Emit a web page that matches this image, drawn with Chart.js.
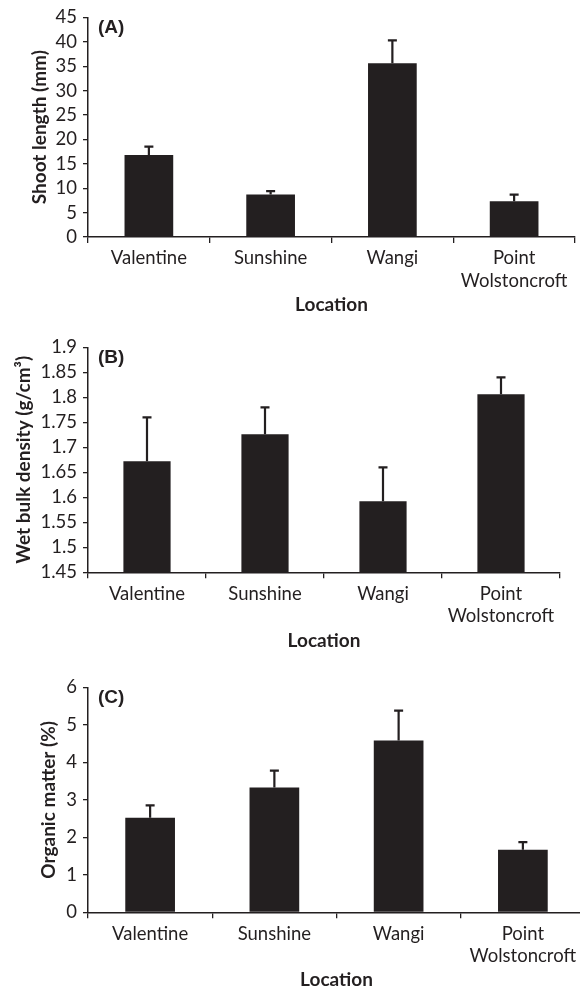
<!DOCTYPE html>
<html>
<head>
<meta charset="utf-8">
<script src="https://cdn.jsdelivr.net/npm/chart.js@4/dist/chart.umd.min.js"></script>
<style>
  html, body { margin: 0; padding: 0; background: #fff; overflow: hidden; }
  body { width: 580px; height: 991px; position: relative; }
  canvas { position: absolute; left: 0; }
</style>
</head>
<body>
<canvas id="chartA" width="580" height="320" style="top:0px"></canvas>
<canvas id="chartB" width="580" height="330" style="top:330px"></canvas>
<canvas id="chartC" width="600" height="321" style="top:670px"></canvas>
<script>
const locations = ['Valentine', 'Sunshine', 'Wangi', ['Point', 'Wolstoncroft']];

// (A) shoot length, mm
const shootLength = [16.8, 8.7, 35.6, 7.3];
const shootLengthErr = [1.7, 0.7, 4.7, 1.4];
const shootAxis = [0, 45, 5];

// (B) wet bulk density, g/cm3
const bulkDensity = [1.672, 1.726, 1.592, 1.806];
const bulkDensityErr = [0.088, 0.054, 0.068, 0.034];
const densityAxis = [1.45, 1.9, 0.05];

// (C) organic matter, %
const organicMatter = [2.52, 3.33, 4.58, 1.67];
const organicMatterErr = [0.33, 0.45, 0.80, 0.20];
const organicAxis = [0, 6, 1];

const ink = '#231f20';
const tickFont = { family: 'Lato', size: 18.5, lineHeight: 1.23 };
const titleFont = { family: 'Lato', size: 19, weight: 'bold', lineHeight: 1.2 };

const errorBars = {
    id: 'errorBars',
    afterDatasetsDraw(chart, args, opts) {
        const ctx = chart.ctx;
        const y = chart.scales.y;
        const vals = chart.data.datasets[0].data;
        ctx.save();
        ctx.strokeStyle = ink;
        ctx.lineWidth = 2.2;
        chart.getDatasetMeta(0).data.forEach((bar, i) => {
            const top = y.getPixelForValue(vals[i] + opts.errors[i]);
            ctx.beginPath();
            ctx.moveTo(bar.x, bar.y);
            ctx.lineTo(bar.x, top);
            ctx.moveTo(bar.x - 4.5, top);
            ctx.lineTo(bar.x + 4.5, top);
            ctx.stroke();
        });
        // panel letter
        ctx.font = 'bold 19px "Liberation Sans"';
        ctx.fillStyle = ink;
        ctx.textBaseline = 'middle';
        ctx.fillText(opts.letter, chart.chartArea.left + 10, chart.chartArea.top + 10);
        ctx.restore();
    }
};

function makePanel(id, p) {
    new Chart(document.getElementById(id), {
        type: 'bar',
        data: {
            labels: locations,
            datasets: [{
                data: p.values,
                backgroundColor: ink,
                barPercentage: 0.4,
                categoryPercentage: 1
            }]
        },
        options: {
            responsive: false,
            animation: false,
            layout: { padding: { top: p.padTop, right: p.padRight, bottom: 0, left: 0 } },
            plugins: {
                legend: { display: false },
                tooltip: { enabled: false },
                errorBars: { errors: p.errors, letter: p.letter }
            },
            scales: {
                x: {
                    grid: { offset: true, drawOnChartArea: false, tickLength: 6, color: ink, lineWidth: 1.3 },
                    border: { color: ink, width: 1.5 },
                    ticks: { color: ink, font: tickFont, padding: 4, maxRotation: 0, autoSkip: false },
                    title: { display: true, text: 'Location', color: ink, font: titleFont, padding: { top: 0, bottom: p.xTitlePad } },
                    afterFit: s => { s.height = p.xHeight; }
                },
                y: {
                    min: p.axis[0],
                    max: p.axis[1],
                    grid: { drawOnChartArea: false, tickLength: 5, color: ink, lineWidth: 1.3 },
                    border: { color: ink, width: 1.5 },
                    ticks: {
                        stepSize: p.axis[2],
                        autoSkip: false,
                        color: ink,
                        font: tickFont,
                        padding: 6,
                        callback: v => String(+v.toFixed(2))
                    },
                    title: { display: true, text: p.yTitle, color: ink, font: titleFont, padding: { top: p.yTitlePad, bottom: 0 } },
                    afterFit: s => { s.width = 88; }
                }
            }
        },
        plugins: [errorBars]
    });
}

makePanel('chartA', {
    values: shootLength, errors: shootLengthErr, axis: shootAxis,
    letter: '(A)', yTitle: 'Shoot length (mm)',
    padTop: 12.7, padRight: 5, xHeight: 83, xTitlePad: 3.6, yTitlePad: 28.6
});
makePanel('chartB', {
    values: bulkDensity, errors: bulkDensityErr, axis: densityAxis,
    letter: '(B)', yTitle: 'Wet bulk density (g/cm³)',
    padTop: 17.3, padRight: 20, xHeight: 87.7, xTitlePad: 7.6, yTitlePad: 12.6
});
makePanel('chartC', {
    values: organicMatter, errors: organicMatterErr, axis: organicAxis,
    letter: '(C)', yTitle: 'Organic matter (%)',
    padTop: 17.3, padRight: 15, xHeight: 78.7, xTitlePad: 0, yTitlePad: 37.6
});
</script>
</body>
</html>
